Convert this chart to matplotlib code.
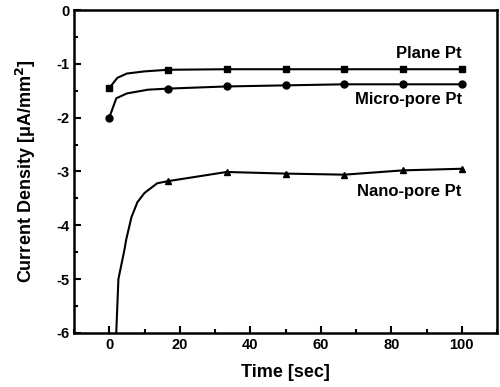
import matplotlib.pyplot as plt
from matplotlib.ticker import MultipleLocator

plt.rcParams['font.family'] = ['Liberation Sans', 'DejaVu Sans']
plt.rcParams['font.weight'] = 'bold'
plt.rcParams['axes.unicode_minus'] = False

# marker points
t_mark = [0, 16.7, 33.3, 50, 66.7, 83.3, 100]
plane_mark = [-1.45, -1.11, -1.1, -1.1, -1.1, -1.1, -1.1]
micro_mark = [-2.0, -1.46, -1.42, -1.40, -1.38, -1.38, -1.38]
nano_mark = [-3.18, -3.18, -3.01, -3.04, -3.06, -2.98, -2.95]

# traced line points (curve shape between markers)
plane_t = [0, 2.3, 5, 10, 16.7, 33.3, 50, 66.7, 83.3, 100]
plane_y = [-1.45, -1.26, -1.18, -1.14, -1.11, -1.1, -1.1, -1.1, -1.1, -1.1]
micro_t = [0, 2, 5, 11, 16.7, 33.3, 50, 66.7, 83.3, 100]
micro_y = [-2.0, -1.64, -1.55, -1.48, -1.46, -1.42, -1.40, -1.38, -1.38, -1.38]
nano_t = [1.8, 2.6, 4.3, 4.8, 6.3, 8, 10, 13.6, 16.7, 33.3, 50, 66.7, 83.3, 100]
nano_y = [-6.3, -5.0, -4.46, -4.27, -3.85, -3.57, -3.4, -3.22, -3.18, -3.01, -3.04, -3.06, -2.98, -2.95]

fig = plt.figure(figsize=(5, 3.87), dpi=100)
ax = fig.add_axes([0.148, 0.14, 0.846, 0.834])

ax.plot(plane_t, plane_y, color='black', lw=1.5)
ax.plot(micro_t, micro_y, color='black', lw=1.5)
ax.plot(nano_t, nano_y, color='black', lw=1.5)
ax.plot(t_mark, plane_mark, 's', color='black', ms=5)
ax.plot(t_mark, micro_mark, 'o', color='black', ms=5)
ax.plot(t_mark[1:], nano_mark[1:], '^', color='black', ms=5)

ax.text(100, -0.80, 'Plane Pt', ha='right', va='center', fontsize=12, fontweight='bold')
ax.text(100, -1.67, 'Micro-pore Pt', ha='right', va='center', fontsize=12, fontweight='bold')
ax.text(100, -3.38, 'Nano-pore Pt', ha='right', va='center', fontsize=12, fontweight='bold')

ax.set_xlim(-10, 110)
ax.set_ylim(-6, 0)
ax.xaxis.set_major_locator(MultipleLocator(20))
ax.xaxis.set_minor_locator(MultipleLocator(10))
ax.yaxis.set_major_locator(MultipleLocator(1))
ax.yaxis.set_minor_locator(MultipleLocator(0.5))
ax.tick_params(which='both', direction='in', width=1.5, labelsize=10.5)
ax.tick_params(which='major', length=5)
ax.tick_params(which='minor', length=3)
for s in ax.spines.values():
    s.set_linewidth(1.8)

ax.set_xlabel('Time [sec]', fontsize=13, fontweight='bold', labelpad=9)
ax.set_ylabel('Current Density [\u03bcA/mm$^{\\mathbf{2}}$]', fontsize=13, fontweight='bold', labelpad=13)

fig.savefig('out.png')
